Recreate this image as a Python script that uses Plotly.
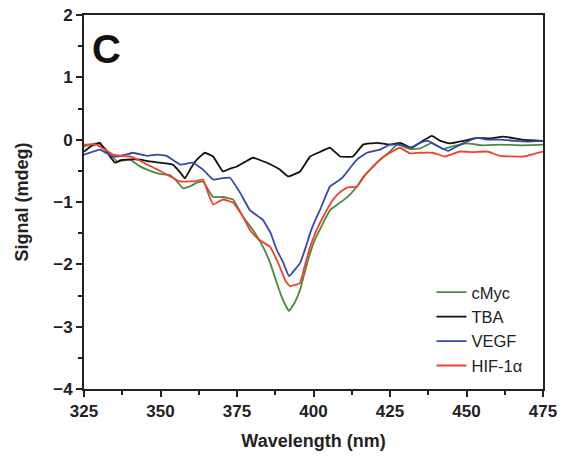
import plotly.graph_objects as go

cmyc_x = [325, 327, 329.6, 332, 335.8, 338, 340, 343, 345.6, 349.8, 353, 355, 357.4, 360, 361.9, 363.9, 365.5, 367.2, 370.4, 373.7, 377, 380.2, 383.5, 386, 388, 390, 392, 394, 395.6, 397, 398.9, 400.5, 402, 403.5, 405.4, 408.7, 411.9, 414.2, 416.2, 418.5, 420.7, 423, 425, 427.3, 429, 431.5, 434.8, 438.7, 442.3, 446, 450, 455, 461, 468, 475]
cmyc_y = [-0.11, -0.08, -0.06, -0.15, -0.35, -0.33, -0.32, -0.42, -0.48, -0.55, -0.57, -0.65, -0.78, -0.74, -0.69, -0.67, -0.8, -0.92, -0.92, -0.96, -1.24, -1.45, -1.72, -2.0, -2.3, -2.57, -2.75, -2.6, -2.41, -2.15, -1.82, -1.6, -1.45, -1.3, -1.13, -1.01, -0.88, -0.75, -0.6, -0.48, -0.37, -0.27, -0.19, -0.08, -0.1, -0.15, -0.14, -0.05, -0.15, -0.1, -0.06, -0.09, -0.08, -0.09, -0.08]

tba_x = [325, 327.5, 330.2, 332.5, 335.1, 337, 339, 343.3, 346.5, 349.8, 354, 356, 358, 360, 361.9, 364.5, 367.2, 370.4, 372.5, 375, 377.5, 380.2, 384.8, 389, 391.7, 395.6, 398.9, 401.5, 405.4, 408.7, 412.9, 416.2, 420.7, 425, 428.3, 432, 435, 438.7, 441.5, 444.6, 449, 453.4, 458, 462, 468, 475]
tba_y = [-0.19, -0.1, -0.05, -0.2, -0.37, -0.33, -0.32, -0.32, -0.35, -0.37, -0.4, -0.5, -0.62, -0.45, -0.32, -0.21, -0.27, -0.51, -0.47, -0.43, -0.36, -0.29, -0.37, -0.48, -0.59, -0.51, -0.27, -0.21, -0.13, -0.27, -0.27, -0.08, -0.05, -0.08, -0.05, -0.13, -0.04, 0.06, -0.02, -0.06, -0.02, 0.03, 0.02, 0.05, 0.0, -0.02]

vegf_x = [325, 327.5, 330.2, 332.5, 334.5, 338, 341, 345.6, 349, 352, 356.4, 360.6, 363.9, 367.2, 370, 372.7, 376, 379.2, 383.5, 386, 388, 390, 392, 394, 395.6, 397.5, 398.9, 400.5, 402.1, 405.4, 407.5, 409.6, 412, 414.2, 417.5, 421.7, 425, 428.3, 431.5, 435.8, 437.5, 440.4, 444, 448, 453.4, 457, 461, 466, 470, 475]
vegf_y = [-0.24, -0.2, -0.16, -0.22, -0.27, -0.25, -0.21, -0.26, -0.24, -0.26, -0.4, -0.37, -0.48, -0.64, -0.62, -0.61, -0.85, -1.13, -1.29, -1.5, -1.77, -1.96, -2.19, -2.08, -1.98, -1.72, -1.5, -1.3, -1.13, -0.75, -0.68, -0.6, -0.45, -0.32, -0.21, -0.16, -0.08, -0.08, -0.13, -0.03, -0.02, -0.1, -0.18, -0.08, 0.03, 0.0, 0.0, -0.02, -0.03, -0.02]

hif_x = [325, 329, 331.5, 334.5, 337, 340, 343, 345.6, 349, 352, 356.4, 359.6, 362, 363.9, 365.5, 367.2, 370.4, 373.7, 377, 379.2, 382, 385.8, 389, 391, 392.3, 394, 395.6, 397, 398.9, 401, 403.1, 406.4, 408.5, 410.9, 414.2, 417.5, 421.7, 425, 428.3, 431.5, 435, 439, 443, 447.9, 452, 456.7, 461, 468.5, 475]
hif_y = [-0.08, -0.08, -0.15, -0.24, -0.26, -0.27, -0.33, -0.4, -0.48, -0.56, -0.67, -0.67, -0.66, -0.64, -0.85, -1.04, -0.96, -1.01, -1.24, -1.45, -1.6, -1.72, -2.04, -2.28, -2.35, -2.33, -2.3, -2.05, -1.72, -1.45, -1.24, -0.96, -0.85, -0.77, -0.75, -0.53, -0.32, -0.21, -0.13, -0.22, -0.21, -0.21, -0.27, -0.19, -0.2, -0.19, -0.26, -0.27, -0.19]

series = [
    ("cMyc", cmyc_x, cmyc_y, "#4b8b3b"),
    ("TBA", tba_x, tba_y, "#111111"),
    ("VEGF", vegf_x, vegf_y, "#3848a8"),
    ("HIF-1α", hif_x, hif_y, "#f04230"),
]

FONT = "Arial, Liberation Sans, sans-serif"
AXC = "#222222"

fig = go.Figure()
for name, xs, ys, col in series:
    fig.add_trace(go.Scatter(x=xs, y=ys, mode="lines", name=name,
                             line=dict(color=col, width=1.8, shape="spline", smoothing=0.3)))

axis_common = dict(
    showline=True, linewidth=2, linecolor=AXC, mirror=True,
    ticks="outside", ticklen=6, tickwidth=2, tickcolor=AXC,
    showgrid=False, zeroline=False, automargin=False,
    tickfont=dict(family=FONT, size=17, color=AXC, weight="bold"),
)

fig.update_xaxes(range=[325, 475], tick0=325, dtick=25,
                 minor=dict(ticks="outside", ticklen=4, tickwidth=2, tickcolor=AXC, dtick=12.5, tick0=325),
                 title=dict(text="<b>Wavelength (nm)</b>", font=dict(family=FONT, size=18, color=AXC), standoff=14),
                 **axis_common)
fig.update_yaxes(range=[-4, 2], tick0=-4, dtick=1,
                 minor=dict(ticks="outside", ticklen=4, tickwidth=2, tickcolor=AXC, dtick=0.5, tick0=-4),
                 title=dict(text="<b>Signal (mdeg)</b>", font=dict(family=FONT, size=18, color=AXC), standoff=20),
                 **axis_common)

fig.add_annotation(text="<b>C</b>", x=0.048, y=0.909, xref="paper", yref="paper",
                   xanchor="center", yanchor="middle",
                   showarrow=False, font=dict(family=FONT, size=40, color="#111111"))

fig.update_layout(
    width=567, height=457,
    margin=dict(l=84, r=24, t=15, b=68),
    paper_bgcolor="white", plot_bgcolor="white",
    showlegend=True,
    legend=dict(x=0.757, y=0.305, xanchor="left", yanchor="top",
                bgcolor="rgba(0,0,0,0)", tracegroupgap=0,
                font=dict(family=FONT, size=16.5, color=AXC)),
)

fig.write_html("out.html")
